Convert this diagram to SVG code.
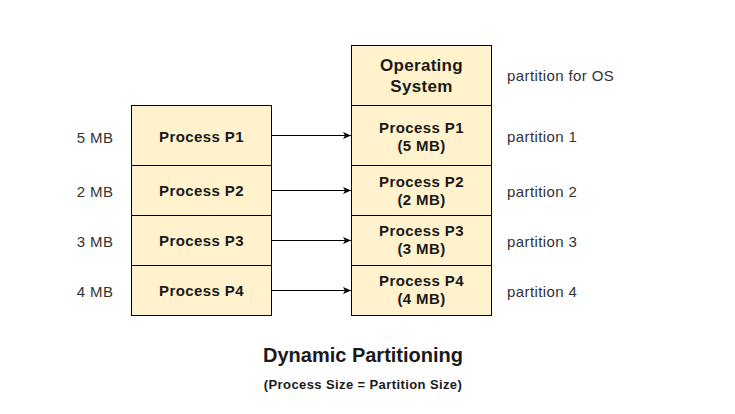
<svg xmlns="http://www.w3.org/2000/svg" width="735" height="414" viewBox="0 0 735 414">
<style>
.box{fill:#fff2cc;stroke:#000;stroke-width:1}
.t{font-family:"Liberation Sans",Arial,sans-serif;font-weight:bold;font-size:15px;letter-spacing:0.4px;fill:#1a1a1a;text-anchor:middle}
.os{font-size:17px;letter-spacing:0.3px}
.lab{font-family:"Liberation Sans",Arial,sans-serif;font-size:15px;letter-spacing:0.4px;fill:#333}
.c{stroke:#000;stroke-width:1;fill:none;marker-end:url(#ah)}
</style>
<defs>
<marker id="ah" markerWidth="10" markerHeight="8" refX="8" refY="3.5" orient="auto" markerUnits="userSpaceOnUse">
<path d="M0,0 L8,3.5 L0,7 L2,3.5 Z" fill="#000"/>
</marker>
</defs>
<rect width="735" height="414" fill="#fff"/>
<g id="left-p1"><rect class="box" x="131.5" y="105.5" width="140" height="60"/><text class="t" x="201.5" y="142">Process P1</text></g>
<g id="left-p2"><rect class="box" x="131.5" y="165.5" width="140" height="50"/><text class="t" x="201.5" y="196">Process P2</text></g>
<g id="left-p3"><rect class="box" x="131.5" y="215.5" width="140" height="50"/><text class="t" x="201.5" y="246">Process P3</text></g>
<g id="left-p4"><rect class="box" x="131.5" y="265.5" width="140" height="50"/><text class="t" x="201.5" y="296">Process P4</text></g>
<g id="right-os"><rect class="box" x="351.5" y="45.5" width="140" height="60"/><text class="t os" x="421.5" y="71">Operating</text><text class="t os" x="421.5" y="92">System</text></g>
<g id="right-p1"><rect class="box" x="351.5" y="105.5" width="140" height="60"/><text class="t" x="421.5" y="133">Process P1</text><text class="t" x="421.5" y="151">(5 MB)</text></g>
<g id="right-p2"><rect class="box" x="351.5" y="165.5" width="140" height="50"/><text class="t" x="421.5" y="187">Process P2</text><text class="t" x="421.5" y="205">(2 MB)</text></g>
<g id="right-p3"><rect class="box" x="351.5" y="215.5" width="140" height="50"/><text class="t" x="421.5" y="236">Process P3</text><text class="t" x="421.5" y="254">(3 MB)</text></g>
<g id="right-p4"><rect class="box" x="351.5" y="265.5" width="140" height="50"/><text class="t" x="421.5" y="286">Process P4</text><text class="t" x="421.5" y="304">(4 MB)</text></g>
<g id="connectors">
<path class="c" d="M271.5,135.5 H351"/>
<path class="c" d="M271.5,190.5 H351"/>
<path class="c" d="M271.5,240.5 H351"/>
<path class="c" d="M271.5,290.5 H351"/>
</g>
<g id="labels">
<text class="lab" x="95" y="143" text-anchor="middle">5 MB</text>
<text class="lab" x="95" y="197" text-anchor="middle">2 MB</text>
<text class="lab" x="95" y="247" text-anchor="middle">3 MB</text>
<text class="lab" x="95" y="297" text-anchor="middle">4 MB</text>
<text class="lab" x="507" y="81">partition for OS</text>
<text class="lab" x="507" y="142">partition 1</text>
<text class="lab" x="507" y="197">partition 2</text>
<text class="lab" x="507" y="247">partition 3</text>
<text class="lab" x="507" y="297">partition 4</text>
</g>
<g id="title">
<text class="t" style="font-size:20px;letter-spacing:0" x="363" y="362">Dynamic Partitioning</text>
<text class="t" style="font-size:13px" x="363" y="389">(Process Size = Partition Size)</text>
</g>
</svg>
